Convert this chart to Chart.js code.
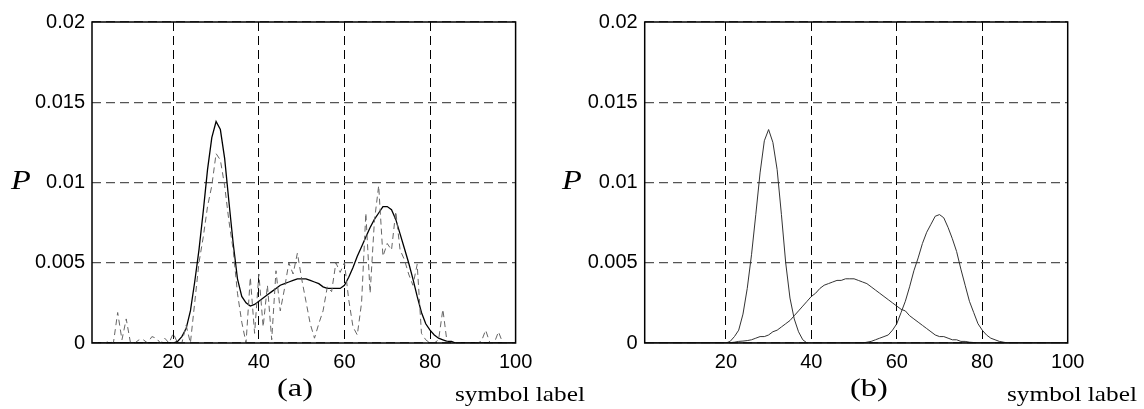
<!DOCTYPE html>
<html>
<head>
<meta charset="utf-8">
<script src="https://cdn.jsdelivr.net/npm/chart.js@4/dist/chart.umd.min.js"></script>
<style>
  body { margin: 0; background: #fff; width: 1144px; height: 409px; position: relative; overflow: hidden; }
  .panel { position: absolute; top: 0; }
  .lbl { position: absolute; font-family: "Liberation Serif", "Times New Roman", serif; color: #000; white-space: nowrap; transform-origin: left top; }
  .P { font-style: italic; font-size: 27px; transform: scaleX(1.2); }
  .cap { font-size: 25px; transform: scaleX(1.3); }
  .sym { font-size: 22px; transform: scaleX(1.15); }
</style>
</head>
<body>
<div class="panel" style="left:0px"><canvas id="grafA" width="560" height="409"></canvas></div>
<div class="panel" style="left:552px"><canvas id="grafB" width="592" height="409"></canvas></div>

<div class="lbl P" style="left:11px; top:165px">P</div>
<div class="lbl P" style="left:562px; top:165px">P</div>
<div class="lbl cap" style="left:277px; top:374px">(a)</div>
<div class="lbl cap" style="left:850px; top:374px">(b)</div>
<div class="lbl sym" style="left:455px; top:381px">symbol label</div>
<div class="lbl sym" style="left:1007px; top:381px">symbol label</div>

<script>
// eixo x: rótulos de símbolo 1..100
const simbolos = [];
for (let i = 1; i <= 100; i++) simbolos.push(i);

const xTicks = [20, 40, 60, 80, 100];
const yTicks = [0, 0.005, 0.01, 0.015, 0.02];
const yTickLabels = ['0', '0.005', '0.01', '0.015', '0.02'];

// (a) histograma (tracejado) - x = 1..100
const histograma = [
  0, 0, 0, 0, 0.0001, 0, 0.0019, 0.0002, 0.0015, 0,
  0, 0.0002, 0.0002, 0, 0.0004, 0.0003, 0, 0.0003, 0, 0.0006,
  0, 0, 0.0011, 0, 0.0025, 0.0050, 0.0066, 0.0085, 0.0098, 0.0118,
  0.0114, 0.0098, 0.0076, 0.0058, 0.0031, 0.0013, 0, 0.0041, 0.0006, 0.0043,
  0.0010, 0.0036, 0.0002, 0.0045, 0.0020, 0.0034, 0.0050, 0.0043, 0.0056, 0.0040,
  0.0026, 0.0012, 0.0003, 0.0012, 0.0020, 0.0035, 0.0032, 0.0050, 0.0044, 0.0050,
  0.0027, 0.0010, 0.0005, 0.0025, 0.0081, 0.0031, 0.0076, 0.0098, 0.0054, 0.0062,
  0.0058, 0.0082, 0.0058, 0.0052, 0.0043, 0.0036, 0.0049, 0.0006, 0.0002, 0,
  0, 0.0002, 0.0021, 0, 0, 0, 0, 0, 0, 0,
  0, 0.0001, 0.0008, 0, 0, 0.0007, 0, 0, 0, 0
];

// (a) estimativa suavizada (linha cheia)
const estimativa = [
  0, 0, 0, 0, 0, 0, 0, 0, 0, 0,
  0, 0, 0, 0, 0, 0, 0, 0, 0, 0,
  0.0001, 0.0004, 0.0009, 0.0020, 0.0038, 0.0058, 0.0082, 0.0108, 0.0128, 0.0138,
  0.0133, 0.0115, 0.0088, 0.0062, 0.0040, 0.0029, 0.0025, 0.0023, 0.0024, 0.0026,
  0.0028, 0.0030, 0.0032, 0.0034, 0.0036, 0.0037, 0.0038, 0.0039, 0.0040, 0.0040,
  0.0040, 0.0039, 0.0038, 0.0037, 0.0035, 0.0034, 0.0034, 0.0034, 0.0034, 0.0036,
  0.0041, 0.0047, 0.0054, 0.0060, 0.0066, 0.0072, 0.0077, 0.0081, 0.0085, 0.0085,
  0.0083, 0.0077, 0.0068, 0.0059, 0.0050, 0.0040, 0.0029, 0.0019, 0.0012, 0.0008,
  0.0005, 0.0003, 0.0002, 0.0001, 0.0001, 0, 0, 0, 0, 0,
  0, 0, 0, 0, 0, 0, 0, 0, 0, 0
];

// (b) tres componentes
const comp30 = [
  0, 0, 0, 0, 0, 0, 0, 0, 0, 0,
  0, 0, 0, 0, 0, 0, 0, 0, 0, 0,
  0.0001, 0.0004, 0.0008, 0.0018, 0.0034, 0.0055, 0.0080, 0.0106, 0.0126, 0.0133,
  0.0125, 0.0108, 0.0080, 0.0050, 0.0028, 0.0015, 0.0007, 0.0002, 0, 0,
  0, 0, 0, 0, 0, 0, 0, 0, 0, 0,
  0, 0, 0, 0, 0, 0, 0, 0, 0, 0,
  0, 0, 0, 0, 0, 0, 0, 0, 0, 0,
  0, 0, 0, 0, 0, 0, 0, 0, 0, 0,
  0, 0, 0, 0, 0, 0, 0, 0, 0, 0,
  0, 0, 0, 0, 0, 0, 0, 0, 0, 0
];

const comp50 = [
  0, 0, 0, 0, 0, 0, 0, 0, 0, 0,
  0, 0, 0, 0, 0, 0, 0, 0, 0, 0,
  0.00002, 0.00005, 0.0001, 0.00012, 0.00015, 0.0002, 0.0003, 0.0004, 0.0004, 0.0005,
  0.0007, 0.0008, 0.0010, 0.0012, 0.0014, 0.0017, 0.0020, 0.0023, 0.0026, 0.0029,
  0.0031, 0.0034, 0.0036, 0.0037, 0.0038, 0.0039, 0.0039, 0.0040, 0.0040, 0.0040,
  0.0039, 0.0038, 0.0037, 0.0035, 0.0033, 0.0031, 0.0029, 0.0027, 0.0025, 0.0023,
  0.0021, 0.0020, 0.0017, 0.0015, 0.0013, 0.0011, 0.0009, 0.0007, 0.0005, 0.0004,
  0.0004, 0.0003, 0.0002, 0.0002, 0.0001, 0.0001, 0.00005, 0.00003, 0.00001, 0,
  0, 0, 0, 0, 0, 0, 0, 0, 0, 0,
  0, 0, 0, 0, 0, 0, 0, 0, 0, 0
];

const comp70 = [
  0, 0, 0, 0, 0, 0, 0, 0, 0, 0,
  0, 0, 0, 0, 0, 0, 0, 0, 0, 0,
  0, 0, 0, 0, 0, 0, 0, 0, 0, 0,
  0, 0, 0, 0, 0, 0, 0, 0, 0, 0,
  0, 0, 0, 0, 0, 0, 0, 0, 0, 0,
  0, 0, 0.00005, 0.0001, 0.0002, 0.0003, 0.0004, 0.0005, 0.0008, 0.0012,
  0.0019, 0.0026, 0.0035, 0.0045, 0.0053, 0.0062, 0.0069, 0.0074, 0.0079, 0.0080,
  0.0078, 0.0072, 0.0065, 0.0057, 0.0046, 0.0036, 0.0026, 0.0019, 0.0012, 0.0008,
  0.0005, 0.0003, 0.0002, 0.0001, 0.00005, 0, 0, 0, 0, 0,
  0, 0, 0, 0, 0, 0, 0, 0, 0, 0
];

function pontos(valores) {
  return simbolos.map((x, i) => ({ x: x, y: valores[i] }));
}

// moldura em volta da area do grafico
const moldura = {
  id: 'moldura',
  afterDraw(chart) {
    const a = chart.chartArea;
    const ctx = chart.ctx;
    ctx.save();
    ctx.strokeStyle = '#000';
    ctx.lineWidth = 1.5;
    ctx.strokeRect(a.left, a.top, a.right - a.left, a.bottom - a.top);
    ctx.restore();
  }
};

function criarGrafico(id, datasets, padDireita, larguraY) {
  const fonteTicks = { family: '"Liberation Sans", Arial, sans-serif', size: 20 };
  return new Chart(document.getElementById(id), {
    type: 'line',
    data: { datasets: datasets },
    options: {
      responsive: false,
      animation: false,
      layout: { padding: { top: 22, right: padDireita, left: 0, bottom: 0 } },
      plugins: { legend: { display: false }, tooltip: { enabled: false } },
      elements: { point: { radius: 0 }, line: { tension: 0 } },
      scales: {
        x: {
          type: 'linear',
          min: 1,
          max: 100,
          afterBuildTicks: s => { s.ticks = xTicks.map(v => ({ value: v })); },
          afterFit: s => { s.height = 66; },
          ticks: { color: '#000', font: fonteTicks, padding: 7, maxRotation: 0 },
          grid: { color: '#000', lineWidth: 1, drawTicks: false },
          border: { display: false, dash: [9, 5] }
        },
        y: {
          min: 0,
          max: 0.02,
          afterBuildTicks: s => { s.ticks = yTicks.map(v => ({ value: v })); },
          afterFit: s => { s.width = larguraY; },
          ticks: {
            color: '#000', font: fonteTicks, padding: 7,
            callback: (v, i) => yTickLabels[i]
          },
          grid: { color: '#555', lineWidth: 1.2, drawTicks: false },
          border: { display: false, dash: [9, 5] }
        }
      }
    },
    plugins: [moldura]
  });
}

criarGrafico('grafA', [
  {
    data: pontos(histograma),
    borderColor: '#666',
    borderWidth: 1,
    borderDash: [6, 4]
  },
  {
    data: pontos(estimativa),
    borderColor: '#000',
    borderWidth: 1.3
  }
], 560 - 515.6, 92);

criarGrafico('grafB', [
  { data: pontos(comp30), borderColor: '#333', borderWidth: 1 },
  { data: pontos(comp50), borderColor: '#333', borderWidth: 1 },
  { data: pontos(comp70), borderColor: '#333', borderWidth: 1 }
], 1144 - 1067.7, 644.7 - 552);
</script>
</body>
</html>
